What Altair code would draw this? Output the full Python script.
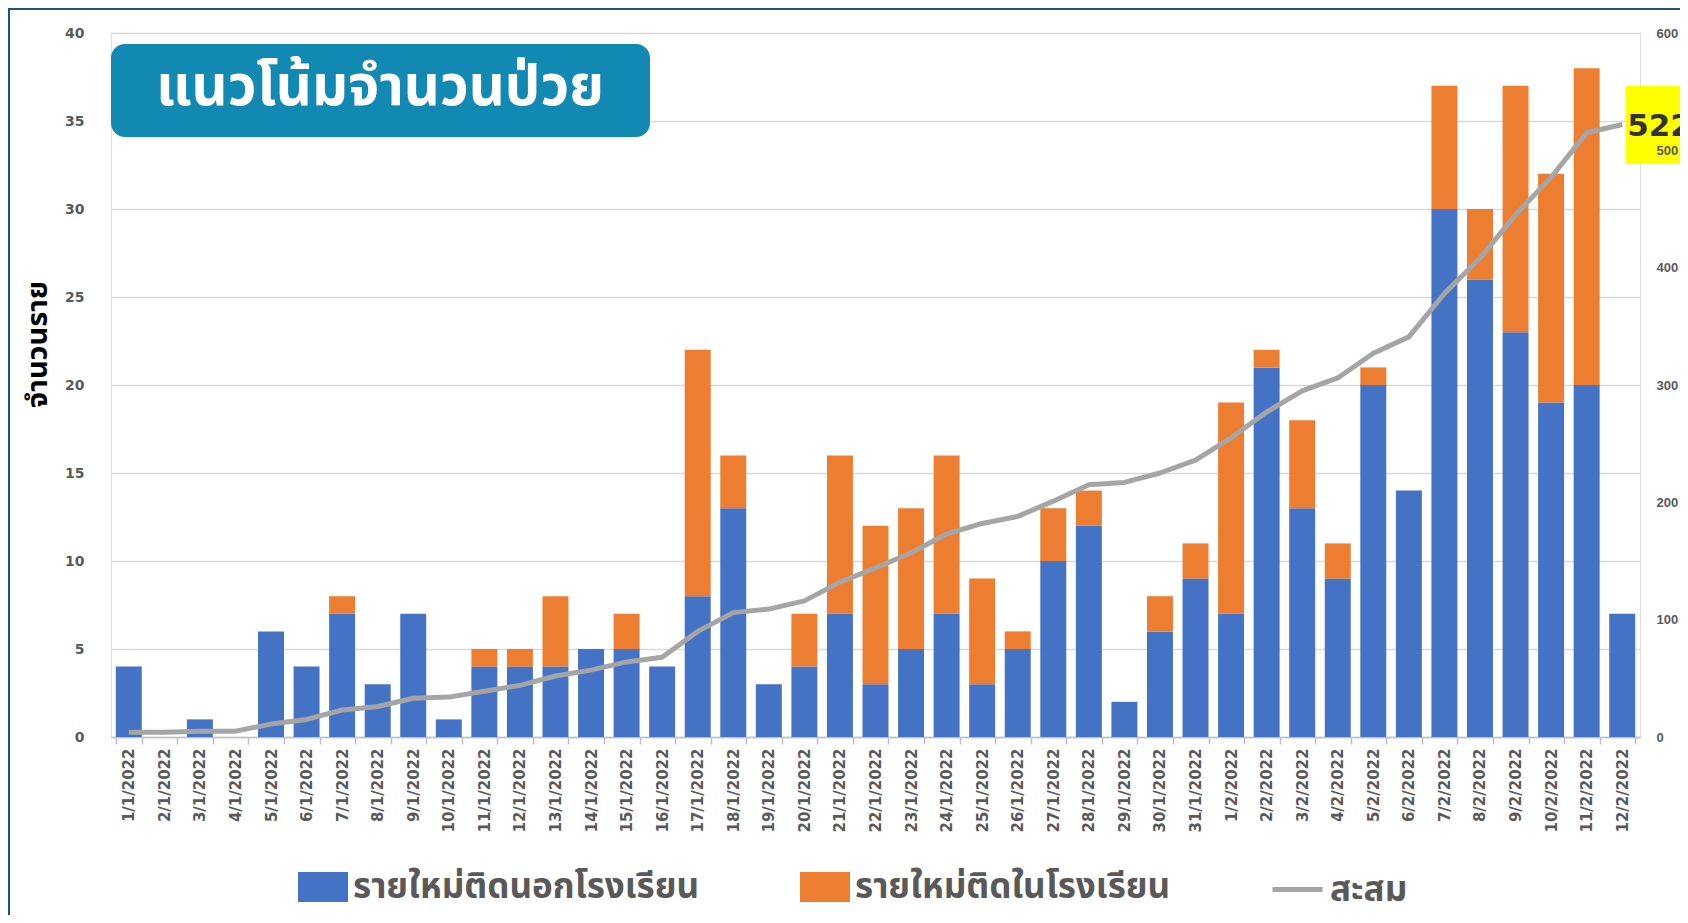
import altair as alt
import pandas as pd

# ---------------- data ----------------
dates = [
    "1/1/2022", "2/1/2022", "3/1/2022", "4/1/2022", "5/1/2022", "6/1/2022",
    "7/1/2022", "8/1/2022", "9/1/2022", "10/1/2022", "11/1/2022", "12/1/2022",
    "13/1/2022", "14/1/2022", "15/1/2022", "16/1/2022", "17/1/2022", "18/1/2022",
    "19/1/2022", "20/1/2022", "21/1/2022", "22/1/2022", "23/1/2022", "24/1/2022",
    "25/1/2022", "26/1/2022", "27/1/2022", "28/1/2022", "29/1/2022", "30/1/2022",
    "31/1/2022", "1/2/2022", "2/2/2022", "3/2/2022", "4/2/2022", "5/2/2022",
    "6/2/2022", "7/2/2022", "8/2/2022", "9/2/2022", "10/2/2022", "11/2/2022",
    "12/2/2022",
]
outside_school = [4, 0, 1, 0, 6, 4, 7, 3, 7, 1, 4, 4, 4, 5, 5, 4, 8, 13, 3, 4, 7, 3,
                  5, 7, 3, 5, 10, 12, 2, 6, 9, 7, 21, 13, 9, 20, 14, 30, 26, 23, 19, 20, 7]
inside_school = [0, 0, 0, 0, 0, 0, 1, 0, 0, 0, 1, 1, 4, 0, 2, 0, 14, 3, 0, 3, 9, 9,
                 8, 9, 6, 1, 3, 2, 0, 2, 2, 12, 1, 5, 2, 1, 0, 7, 4, 14, 13, 18, 0]
cumulative = [4, 4, 5, 5, 11, 15, 23, 26, 33, 34, 39, 44, 52, 57, 64, 68, 90, 106, 109,
              116, 132, 144, 157, 173, 182, 188, 201, 215, 217, 225, 236, 255, 277, 295,
              306, 327, 341, 378, 408, 445, 477, 515, 522]

bar_series = ["รายใหม่ติดนอกโรงเรียน", "รายใหม่ติดในโรงเรียน"]
bar_colors = ["#4472c4", "#ed7d31"]
line_series = ["สะสม"]
line_colors = ["#a5a5a5"]
left_ticks = [0, 5, 10, 15, 20, 25, 30, 35, 40]
right_ticks = [0, 100, 200, 300, 400, 500, 600]
title_text = "แนวโน้มจำนวนป่วย"
y_title = "จำนวนราย"

n = len(dates)
bars_df = pd.DataFrame({
    "date": dates + dates,
    "series": [bar_series[0]] * n + [bar_series[1]] * n,
    "value": outside_school + inside_school,
    "order": [0] * n + [1] * n,
})
line_df = pd.DataFrame({"date": dates, "series": [line_series[0]] * n, "cum": cumulative})
last_df = line_df.tail(1)

NUM_FONT = "DejaVu Sans"
RIGHT_FONT = "Liberation Sans"
THAI_FONT = "Noto Sans Thai, Noto Sans Thai UI, Loma, Garuda, Tlwg Typo, sans-serif"
LABEL_GREY = "#595959"

bar_legend = alt.Legend(
    title=None, orient="none", legendX=187, legendY=829, direction="horizontal",
    symbolType="M-1,-0.6H1V0.6H-1Z", symbolSize=2500, symbolStrokeWidth=0,
    labelFont=THAI_FONT, labelFontSize=35, labelFontWeight="bold",
    labelColor=LABEL_GREY, labelLimit=800, labelOffset=5, columnPadding=100, padding=0,
)
line_legend = alt.Legend(
    title=None, orient="none", legendX=1159, legendY=829, direction="horizontal",
    symbolType="stroke", symbolSize=2500, symbolStrokeWidth=5,
    labelFont=THAI_FONT, labelFontSize=35, labelFontWeight="bold",
    labelColor=LABEL_GREY, labelLimit=800, labelOffset=5, padding=0,
)

x_enc = alt.X(
    "date:N", sort=dates,
    scale=alt.Scale(domain=dates, paddingInner=0.27, paddingOuter=0.135),
    axis=alt.Axis(
        title=None, labelAngle=270, labelAlign="right", labelBaseline="middle",
        labelFont=NUM_FONT, labelFontSize=15, labelFontWeight="bold", labelColor=LABEL_GREY,
        labelPadding=4, labelOverlap=False, tickBand="extent", tickSize=7,
        tickColor="#bfbfbf", tickWidth=1.5, domainColor="#bfbfbf", domainWidth=1.5, grid=False,
    ),
)

bars = alt.Chart(bars_df).mark_bar().encode(
    x=x_enc,
    y=alt.Y(
        "value:Q", stack="zero", scale=alt.Scale(domain=[0, 40], nice=False),
        axis=alt.Axis(
            values=left_ticks, title=y_title, titleFont=THAI_FONT, titleFontSize=29,
            titleFontWeight="bold", titleColor="#000000", titleAngle=270, titleX=-74,
            titleY=311, titleBaseline="middle", titleAlign="center",
            labelFont=NUM_FONT, labelFontSize=14, labelFontWeight="bold", labelColor=LABEL_GREY,
            labelPadding=27, ticks=False, tickSize=0, domain=False,
            gridColor="#d9d9d9", gridWidth=1.5,
        ),
    ),
    color=alt.Color("series:N", scale=alt.Scale(domain=bar_series, range=bar_colors), legend=bar_legend),
    order=alt.Order("order:Q"),
)

y_right = alt.Y(
    "cum:Q", scale=alt.Scale(domain=[0, 600], nice=False),
    axis=alt.Axis(
        orient="right", values=right_ticks, title=None, labelFont=RIGHT_FONT, labelFontSize=13,
        labelFontWeight="bold", labelColor=LABEL_GREY, labelPadding=16, ticks=False,
        tickSize=0, domain=False, grid=False, zindex=1,
    ),
)

line = alt.Chart(line_df).mark_line(strokeWidth=5, strokeJoin="round").encode(
    x=alt.X("date:N", sort=dates), y=y_right,
    stroke=alt.Stroke("series:N", scale=alt.Scale(domain=line_series, range=line_colors), legend=line_legend),
)

dummy = alt.Data(values=[{}])
yellow = alt.Chart(dummy).mark_rect(color="#ffff00").encode(
    x=alt.value(1515), x2=alt.value(1600), y=alt.value(53), y2=alt.value(131),
)
last_label = alt.Chart(last_df).mark_text(
    align="left", baseline="middle", dx=5, dy=2, font=NUM_FONT, fontSize=31,
    fontWeight="bold", color="#333333",
).encode(x=alt.X("date:N", sort=dates), y=alt.Y("cum:Q"), text="cum:Q")

right_layer = alt.layer(line, yellow, last_label)

title_box = alt.Chart(dummy).mark_rect(color="#1289b3", cornerRadius=14).encode(
    x=alt.value(0), x2=alt.value(539), y=alt.value(11), y2=alt.value(104),
)
title_label = alt.Chart(dummy).mark_text(
    text=title_text, font=THAI_FONT, fontSize=56, fontWeight="bold", color="white",
    align="center", baseline="middle",
).encode(x=alt.value(269), y=alt.value(55))

border_top = alt.Chart(dummy).mark_rule(color="#1d5673", strokeWidth=2).encode(
    x=alt.value(-103), x2=alt.value(1600), y=alt.value(-24),
)
border_left = alt.Chart(dummy).mark_rule(color="#1d5673", strokeWidth=2).encode(
    x=alt.value(-102), y=alt.value(-25), y2=alt.value(900),
)

chart = alt.layer(
    bars, right_layer, title_box, title_label, border_top, border_left
).resolve_scale(y="independent").properties(
    width=1529, height=704,
    autosize=alt.AutoSizeParams(type="none"),
    padding={"left": 103, "top": 25, "right": 40, "bottom": 178},
).configure_view(strokeWidth=0).configure(background="white")

chart.save("out.html", embed_options={"renderer": "svg", "actions": False})
